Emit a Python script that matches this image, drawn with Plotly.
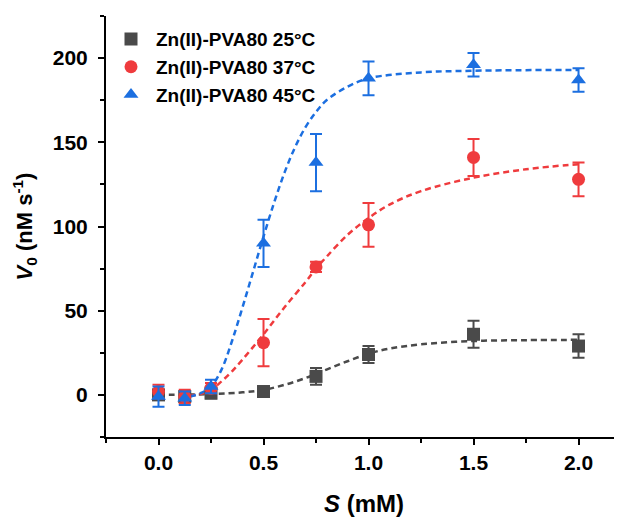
import plotly.graph_objects as go

# Substrate concentrations (mM)
S = [0, 0.125, 0.25, 0.5, 0.75, 1.0, 1.5, 2.0]

# Measured initial rates (nM s^-1) and error bars
v25 = [0, -1, 1, 2, 11, 24, 36, 29]
e25 = [3, 3, 3, 3, 5, 5, 8, 7]
v37 = [2, -1, 4, 31, 76, 101, 141, 128]
e37 = [4, 4, 3, 14, 3, 13, 11, 10]
v45 = [-1, -2, 5, 90, 138, 188, 196, 187]
e45 = [6, 4, 4, 14, 17, 10, 7, 7]

# Fitted curves
fx25 = [0, 0.25, 0.4, 0.5, 0.6, 0.7, 0.8, 0.9, 1.0, 1.1, 1.25, 1.5, 1.75, 2.0]
fy25 = [0, 0.5, 1.5, 3, 6, 10, 15, 20, 24.5, 27.5, 30, 32, 32.5, 32.7]
fx37 = [0.1, 0.2, 0.25, 0.3, 0.35, 0.4, 0.5, 0.6, 0.7, 0.75, 0.8, 0.9, 1.0, 1.1, 1.25, 1.5, 1.75, 2.0]
fy37 = [-1, 0.5, 3, 8, 14, 21, 36, 52, 67, 75, 82, 95, 105, 113, 121, 129, 134, 137]
fx45 = [0.15, 0.2, 0.25, 0.3, 0.35, 0.4, 0.45, 0.5, 0.55, 0.6, 0.65, 0.7, 0.75, 0.8, 0.9, 1.0, 1.25, 1.5, 2.0]
fy45 = [-1, 1, 5, 15, 32, 52, 73, 94, 114, 132, 147, 159, 168, 175, 183, 188, 191.5, 192.5, 193]

xtick_vals = [0, 0.5, 1.0, 1.5, 2.0]
xtick_text = ["0.0", "0.5", "1.0", "1.5", "2.0"]
ytick_vals = [0, 50, 100, 150, 200]

names = ["Zn(II)-PVA80 25°C", "Zn(II)-PVA80 37°C", "Zn(II)-PVA80 45°C"]
colors = ["#4a4a4a", "#ef3b3d", "#1c6fe0"]
symbols = ["square", "circle", "triangle-up"]

FONT = "Liberation Sans, Arial"

fig = go.Figure()
for fx, fy, c in [(fx25, fy25, colors[0]), (fx37, fy37, colors[1]), (fx45, fy45, colors[2])]:
    fig.add_trace(go.Scatter(x=fx, y=fy, mode="lines",
                             line=dict(color=c, width=2.5, dash="6px,4px", shape="spline"),
                             showlegend=False, hoverinfo="skip"))

for v, e, n, c, s in [(v25, e25, names[0], colors[0], symbols[0]),
                      (v37, e37, names[1], colors[1], symbols[1]),
                      (v45, e45, names[2], colors[2], symbols[2])]:
    fig.add_trace(go.Scatter(x=S, y=v, mode="markers", name=n,
                             marker=dict(color=c, symbol=s, size=13, line=dict(width=0)),
                             error_y=dict(type="data", array=e, color=c, thickness=2, width=6)))

fig.update_layout(
    width=622, height=517,
    margin=dict(l=98, r=8, t=8, b=88),
    plot_bgcolor="white", paper_bgcolor="white",
    font=dict(family=FONT, color="black"),
    legend=dict(x=0.0, y=0.99, xanchor="left", yanchor="top",
                font=dict(family=FONT, size=19, color="black", weight="bold"),
                bgcolor="rgba(0,0,0,0)", itemwidth=40, tracegroupgap=0),
    xaxis=dict(range=[-0.25, 2.207], showline=True, linecolor="black", linewidth=2,
               ticks="outside", ticklen=6, tickwidth=2, tickcolor="black",
               tickvals=xtick_vals, ticktext=xtick_text, ticklabelstandoff=0,
               tickfont=dict(family=FONT, size=21, weight="bold"),
               minor=dict(tickvals=[-0.25, 0.25, 0.75, 1.25, 1.75], ticks="outside",
                          ticklen=4, tickwidth=2, tickcolor="black"),
               showgrid=False, zeroline=False, automargin=False,
               title=dict(text="<b><i>S</i> (mM)</b>", font=dict(family=FONT, size=24), standoff=22)),
    yaxis=dict(range=[-25, 225], showline=True, linecolor="black", linewidth=2,
               ticks="outside", ticklen=6, tickwidth=2, tickcolor="black",
               tickvals=ytick_vals, ticklabelstandoff=6,
               tickfont=dict(family=FONT, size=21, weight="bold"),
               minor=dict(tickvals=[-25, 25, 75, 125, 175, 225], ticks="outside",
                          ticklen=4, tickwidth=2, tickcolor="black"),
               showgrid=False, zeroline=False, automargin=False,
               title=dict(text="<b><i>V</i><sub>0</sub> (nM s<sup>-1</sup>)</b>",
                          font=dict(family=FONT, size=22), standoff=14)),
)

fig.write_html("out.html")
